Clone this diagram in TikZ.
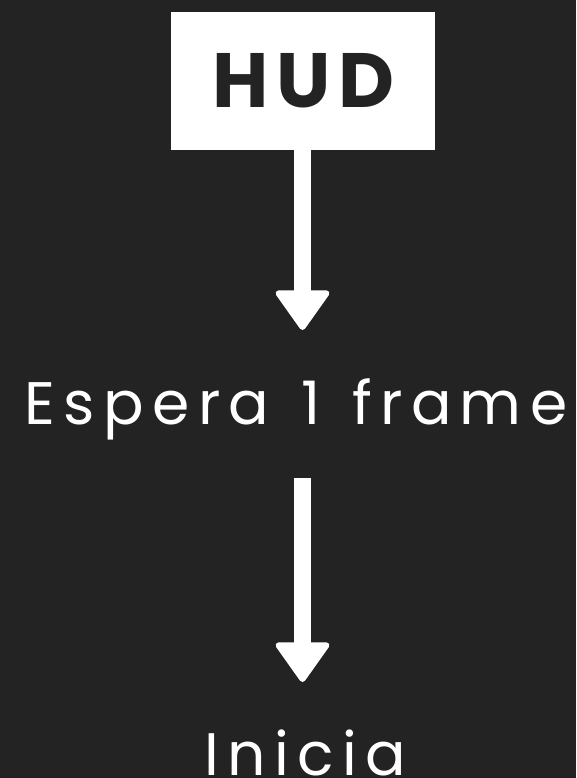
\documentclass[tikz,border=0pt]{standalone}
\usepackage{fontspec}
\setmainfont{Poppins}
\newfontfamily\hudfont[LetterSpace=10]{Poppins Bold}
\newfontfamily\stepfont[LetterSpace=14,WordSpace=1.3]{Poppins}
\usepackage{xcolor}
\usetikzlibrary{arrows.meta,positioning}
\definecolor{bgdark}{HTML}{232323}
\tikzset{
  hudbox/.style={fill=white,minimum width=264pt,minimum height=138pt,
    inner sep=0pt,text=bgdark,font=\hudfont\fontsize{77}{80}\selectfont},
  steplabel/.style={inner sep=0pt,text=white,text height=42pt,text depth=15pt,
    font=\stepfont\fontsize{60}{64}\selectfont},
  flowarrow/.style={draw=white,line width=17pt,
    -{Triangle[width=58pt,length=42pt,line width=6pt,round]}}
}
\begin{document}
\begin{tikzpicture}[x=1pt,y=-1pt]
\fill[bgdark] (0,0) rectangle (576,778);
\useasboundingbox (0,0) rectangle (576,778);

\node[hudbox] (hud) at (303,81) {HUD};
\node[steplabel, anchor=north] (wait) at (296,382) {Espera 1 frame};
\node[steplabel, anchor=north] (start) at (305,733) {Inicia};

\draw[flowarrow, shorten >=52pt] (hud.south -| 302.5,0) -- (wait.north -| 302.5,0);
\draw[flowarrow, shorten <=39pt, shorten >=51pt] (wait.south -| 302.5,0) -- (start.north -| 302.5,0);
\end{tikzpicture}
\end{document}
